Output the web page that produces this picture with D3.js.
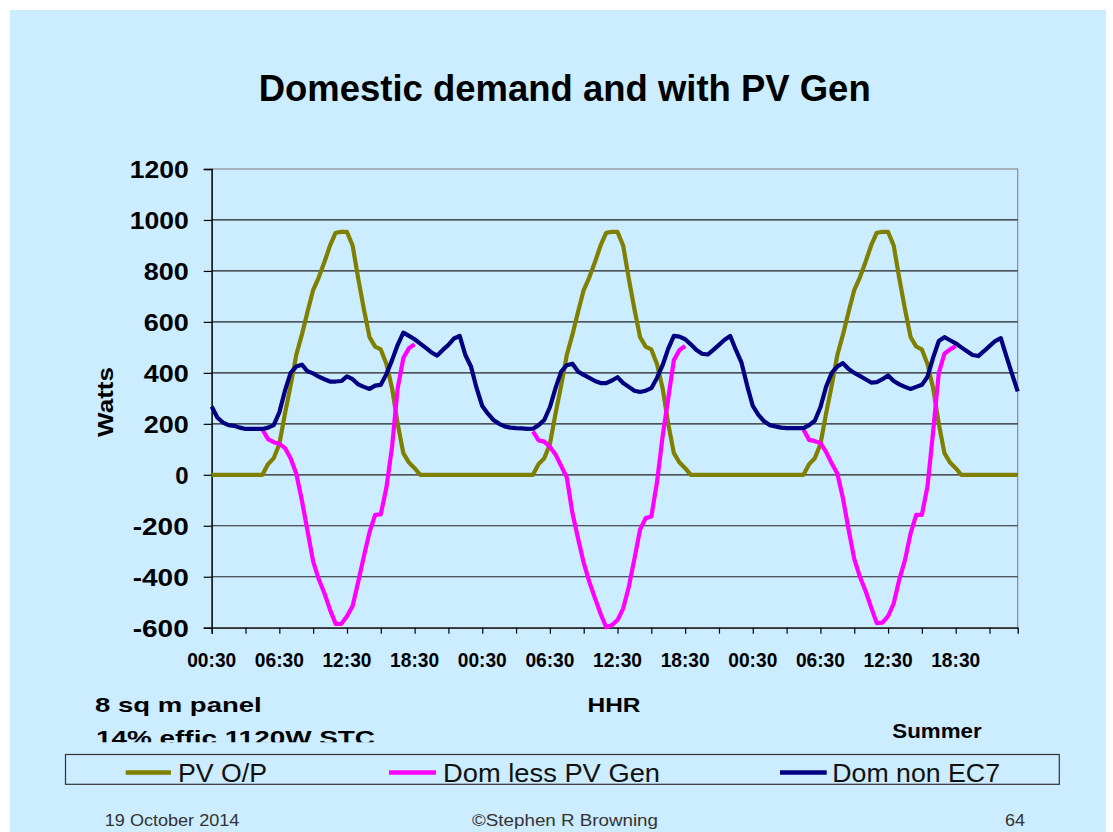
<!DOCTYPE html>
<html>
<head>
<meta charset="utf-8">
<script src="https://cdn.jsdelivr.net/npm/d3@7"></script>
<style>
  html, body { margin: 0; padding: 0; background: #ffffff; }
  svg { display: block; }
  text { font-family: "Liberation Sans", Arial, sans-serif; }
</style>
</head>
<body>
<svg id="chart" width="1113" height="832"></svg>
<script>
// ---------- data ----------
const chartTitle = "Domestic demand and with PV Gen";
const yLabel = "Watts";
const xLabel = "HHR";
const seriesNames = ["PV O/P", "Dom less PV Gen", "Dom non EC7"];
const seriesColors = ["#808000", "#FF00FF", "#000080"];
const xTickLabels = ["00:30","06:30","12:30","18:30","00:30","06:30","12:30","18:30","00:30","06:30","12:30","18:30"];
const yTicks = [-600,-400,-200,0,200,400,600,800,1000,1200];

// half-hour periods, 3 days
const pvOutput = [
  0,0,0,0,0,0,0,0,0,0, 42,65,120,240,350,470,550,640,725,775,
  835,900,950,953,953,900,770,650,540,503, 492,435,340,200,85,48,26,0,0,0,
  0,0,0,0,0,0,0,0,
  0,0,0,0,0,0,0,0,0,0, 42,65,120,240,350,470,550,640,725,775,
  835,900,950,953,953,900,770,650,540,503, 492,435,340,200,85,48,26,0,0,0,
  0,0,0,0,0,0,0,0,
  0,0,0,0,0,0,0,0,0,0, 42,65,120,240,350,470,550,640,725,775,
  835,900,950,953,953,900,770,650,540,503, 492,435,340,200,85,48,26,0,0,0,
  0,0,0,0,0,0,0,0
];
const domLessPV = [
  null,null,null,null,null,null,null,null,null,
  178,140,128,122,105,65,5,-100,-220,-340,-410,-465,-530,-585,-585,-555,-515,-420,-320,-225,-157,-155,-50,110,340,458,497,512,
  null,null,null,null,null,null,null,null,null,null,null,null,null,null,null,null,null,null,null,null,
  170,135,130,110,80,35,-10,-150,-250,-345,-420,-484,-545,-598,-590,-570,-525,-440,-330,-215,-170,-164,-30,150,300,450,490,505,
  null,null,null,null,null,null,null,null,null,null,null,null,null,null,null,null,null,null,null,null,
  177,137,132,125,90,45,5,-92,-215,-330,-400,-455,-520,-582,-580,-555,-505,-410,-335,-230,-157,-157,-45,170,400,475,492,505,
  null,null,null,null,null,null,null,null,null,null,null
];
const domNonEC7 = [
  268,225,205,195,192,185,180,180,180,180, 185,195,245,330,400,425,432,406,398,385,
  375,366,366,368,386,375,355,345,337,350, 353,395,450,510,558,545,532,515,498,480,
  468,490,510,535,545,470,425,340,
  270,240,215,200,190,185,183,182,180,181, 195,215,265,340,405,430,436,405,392,380,
  368,360,360,370,383,360,345,330,325,330, 340,380,430,495,545,542,532,512,490,475,
  472,490,510,530,545,490,440,350,
  270,235,210,195,190,185,183,183,183,183, 195,212,265,345,400,425,438,415,400,388,
  375,362,364,375,390,368,355,345,337,345, 353,385,460,525,540,528,516,500,485,470,
  466,485,505,525,536,465,395,327
];
const categories = d3.range(pvOutput.length); // half-hour index

// ---------- layout ----------
const svg = d3.select("#chart");
const bg = "#CCECFF";
const plot = { left: 211.7, right: 1017.7, top: 169, bottom: 627.7 };

svg.append("rect").attr("x", 10).attr("y", 10).attr("width", 1096).attr("height", 822).attr("fill", bg);

const x = d3.scalePoint().domain(categories).range([plot.left, plot.right]);
const y = d3.scaleLinear().domain([-600, 1200]).range([plot.bottom, plot.top]);

// title
svg.append("text").attr("x", 564.7).attr("y", 101).attr("text-anchor", "middle")
  .attr("font-size", 36).attr("font-weight", "bold").attr("fill", "#000")
  .attr("textLength", 612).attr("lengthAdjust", "spacingAndGlyphs").text(chartTitle);

// plot border
svg.append("rect").attr("x", plot.left).attr("y", plot.top)
  .attr("width", plot.right - plot.left).attr("height", plot.bottom - plot.top)
  .attr("fill", "none").attr("stroke", "#8c8c8c").attr("stroke-width", 1.2);

// gridlines
const gridG = svg.append("g");
gridG.selectAll("line").data(yTicks.filter(v => v > -600 && v < 1200)).join("line")
  .attr("x1", plot.left).attr("x2", plot.right)
  .attr("y1", d => y(d)).attr("y2", d => y(d))
  .attr("stroke", "#222").attr("stroke-width", 1.2);

// y axis
const yAxis = d3.axisLeft(y).tickValues(yTicks).tickSize(8).tickFormat(d => String(d));
const yG = svg.append("g").attr("transform", `translate(${plot.left},0)`).call(yAxis);
yG.select(".domain").attr("stroke", "#000").attr("stroke-width", 1.3);
yG.selectAll(".tick line").attr("stroke", "#000").attr("stroke-width", 1.2);
yG.selectAll(".tick text").attr("x", -23).attr("dy", "0.36em")
  .attr("font-size", 24).attr("font-weight", "bold").attr("fill", "#000")
  .attr("font-family", "Liberation Sans, Arial, sans-serif")
  .attr("textLength", 59).attr("lengthAdjust", "spacingAndGlyphs");
yG.selectAll(".tick text").filter(d => d === -600 || d === -400 || d === -200).attr("textLength", 56);
yG.selectAll(".tick text").filter(d => String(d).length === 3).attr("textLength", 45);
yG.selectAll(".tick text").filter(d => String(d).length === 1).attr("textLength", null);

// x axis
const xTickIdx = categories.filter(i => i % 6 === 0);
const xAxis = d3.axisBottom(x).tickValues(xTickIdx).tickSize(6).tickFormat(() => "");
const xG = svg.append("g").attr("transform", `translate(0,${plot.bottom})`).call(xAxis);
xG.select(".domain").attr("stroke", "#000").attr("stroke-width", 1.3);
xG.selectAll(".tick line").attr("stroke", "#000").attr("stroke-width", 1.2);

const labelIdx = categories.filter(i => i % 12 === 0);
svg.append("g").selectAll("text").data(labelIdx).join("text")
  .attr("x", d => x(d)).attr("y", 667.3).attr("text-anchor", "middle")
  .attr("font-size", 19.5).attr("font-weight", "bold").attr("fill", "#000")
  .attr("textLength", 49).attr("lengthAdjust", "spacingAndGlyphs")
  .text((d, i) => xTickLabels[i]);

// axis titles
svg.append("text").attr("transform", "translate(113,402) rotate(-90)").attr("text-anchor", "middle")
  .attr("font-size", 22).attr("font-weight", "bold").attr("fill", "#000")
  .attr("textLength", 70).attr("lengthAdjust", "spacingAndGlyphs").text(yLabel);
svg.append("text").attr("x", 614).attr("y", 712).attr("text-anchor", "middle")
  .attr("font-size", 21).attr("font-weight", "bold").attr("fill", "#000")
  .attr("textLength", 53).attr("lengthAdjust", "spacingAndGlyphs").text(xLabel);

// series lines
const seriesData = [pvOutput, domLessPV, domNonEC7];
const line = d3.line().defined(d => d.v !== null).x(d => x(d.i)).y(d => y(d.v));
svg.append("g").selectAll("path").data(seriesData).join("path")
  .attr("d", s => line(s.map((v, i) => ({ i: categories[i], v }))))
  .attr("fill", "none")
  .attr("stroke", (s, k) => seriesColors[k])
  .attr("stroke-width", 4.2)
  .attr("stroke-linejoin", "round")
  .attr("stroke-linecap", "butt");

// annotations
svg.append("text").attr("x", 95).attr("y", 711.7)
  .attr("font-size", 21).attr("font-weight", "bold").attr("fill", "#000")
  .attr("textLength", 166.7).attr("lengthAdjust", "spacingAndGlyphs").text("8 sq m panel");
svg.append("clipPath").attr("id", "noteClip").append("rect")
  .attr("x", 0).attr("y", 715).attr("width", 600).attr("height", 27.3);
svg.append("text").attr("x", 96).attr("y", 744.5).attr("clip-path", "url(#noteClip)")
  .attr("font-size", 21).attr("font-weight", "bold").attr("fill", "#000")
  .attr("textLength", 279).attr("lengthAdjust", "spacingAndGlyphs").text("14% effic 1120W STC");
svg.append("text").attr("x", 892.3).attr("y", 738.3)
  .attr("font-size", 20.5).attr("font-weight", "bold").attr("fill", "#000")
  .attr("textLength", 89.4).attr("lengthAdjust", "spacingAndGlyphs").text("Summer");

// legend
svg.append("rect").attr("x", 65.5).attr("y", 754.5).attr("width", 993.8).attr("height", 29.8)
  .attr("fill", "none").attr("stroke", "#333").attr("stroke-width", 1.2);
const legendItems = [
  { x1: 125.7, x2: 171, tx: 178, tw: 89 },
  { x1: 389, x2: 436, tx: 443, tw: 217 },
  { x1: 780, x2: 826.7, tx: 832.3, tw: 167.7 }
];
const lg = svg.append("g");
lg.selectAll("line").data(legendItems).join("line")
  .attr("x1", d => d.x1).attr("x2", d => d.x2).attr("y1", 772.5).attr("y2", 772.5)
  .attr("stroke", (d, k) => seriesColors[k]).attr("stroke-width", 4.5);
lg.selectAll("text").data(legendItems).join("text")
  .attr("x", d => d.tx).attr("y", 781.5)
  .attr("font-size", 25.5).attr("fill", "#111")
  .attr("textLength", d => d.tw).attr("lengthAdjust", "spacingAndGlyphs")
  .text((d, k) => seriesNames[k]);

// footer
const footer = [
  { t: "19 October 2014", x: 104.8, w: 134.5 },
  { t: "\u00A9Stephen R Browning", x: 472, w: 186 },
  { t: "64", x: 1005, w: 20 }
];
svg.append("g").selectAll("text").data(footer).join("text")
  .attr("x", d => d.x).attr("y", 826)
  .attr("font-size", 16).attr("fill", "#333")
  .attr("textLength", d => d.w).attr("lengthAdjust", "spacingAndGlyphs")
  .text(d => d.t);
</script>
</body>
</html>
